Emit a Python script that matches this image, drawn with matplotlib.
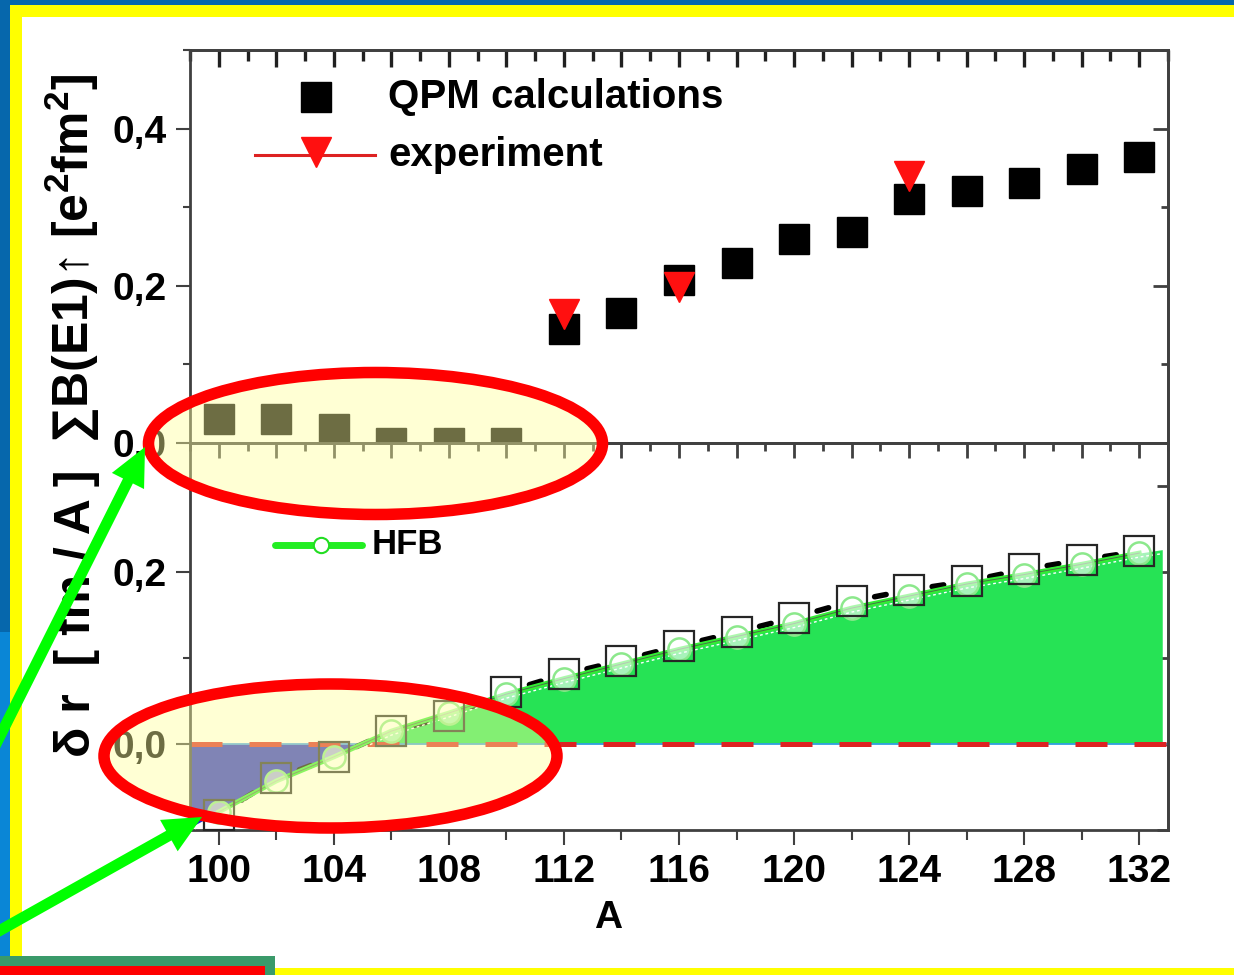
import numpy as np
import matplotlib
matplotlib.use("Agg")
import matplotlib.pyplot as plt
from matplotlib.patches import Rectangle, Ellipse, FancyArrow
from matplotlib.collections import LineCollection
from matplotlib.ticker import FixedLocator, FixedFormatter, MultipleLocator, NullLocator
from matplotlib.transforms import offset_copy

plt.rcParams['font.family'] = ['Liberation Sans', 'DejaVu Sans']
plt.rcParams['font.weight'] = 'bold'
plt.rcParams['mathtext.fontset'] = 'custom'
plt.rcParams['mathtext.rm'] = 'Liberation Sans:bold'
plt.rcParams['mathtext.it'] = 'Liberation Sans:bold'
plt.rcParams['mathtext.bf'] = 'Liberation Sans:bold'

# ---------------- data ----------------
mass_A = [100, 102, 104, 106, 108, 110, 112, 114, 116,
          118, 120, 122, 124, 126, 128, 130, 132]

# summed E1 strength, QPM
be1_qpm = [0.030, 0.031, 0.018, 0.0, 0.0, 0.0, 0.145, 0.165, 0.208,
           0.229, 0.260, 0.268, 0.311, 0.320, 0.331, 0.349, 0.364]

# summed E1 strength, experiment
exp_A = [112, 116, 124]
be1_exp = [0.164, 0.198, 0.340]

# neutron skin per nucleon, QPM (open squares) and HFB (circles)
dr_qpm = [-0.082, -0.040, -0.015, 0.015, 0.032, 0.061, 0.081, 0.097, 0.114,
          0.130, 0.147, 0.166, 0.179, 0.189, 0.203, 0.214, 0.224]
dr_hfb = [-0.079, -0.043, -0.015, 0.015, 0.036, 0.058, 0.076, 0.093, 0.110,
          0.125, 0.140, 0.158, 0.172, 0.186, 0.197, 0.209, 0.222]

# shaded band edge (HFB curve carried to the frame edges)
band_A = [99.0] + mass_A + [132.8]
band_dr = [-0.097] + dr_hfb + [0.226]

x_ticks = [100, 104, 108, 112, 116, 120, 124, 128, 132]
x_labels = ['100', '104', '108', '112', '116', '120', '124', '128', '132']
top_y_ticks = [0.0, 0.2, 0.4]
top_y_labels = ['0,0', '0,2', '0,4']
bot_y_ticks = [0.0, 0.2]
bot_y_labels = ['0,0', '0,2']

W, H = 1234, 975
fig = plt.figure(figsize=(W / 100, H / 100), dpi=100)


def frac(x0, y0, x1, y1):
    return [x0 / W, 1 - y1 / H, (x1 - x0) / W, (y1 - y0) / H]


def pixel_axes(z):
    a = fig.add_axes([0, 0, 1, 1], zorder=z)
    a.set_xlim(0, W)
    a.set_ylim(H, 0)
    a.axis('off')
    a.patch.set_alpha(0)
    return a


# ---------------- page frame ----------------
bg = pixel_axes(-10)
bg.add_patch(Rectangle((0, 0), W, 5, color='#0667ac', lw=0))
bg.add_patch(Rectangle((10, 5), W - 10, 12, color='#ffff00', lw=0))
bg.add_patch(Rectangle((0, 0), 10, 632, color='#0667ac', lw=0))
bg.add_patch(Rectangle((0, 632), 10, 343, color='#0a86d6', lw=0))
bg.add_patch(Rectangle((10, 5), 12, 951, color='#ffff00', lw=0))
bg.add_patch(Rectangle((275, 968), W - 275, 7, color='#ffff00', lw=0))

SPINE = '#404040'
TICK_FS = 28


def style_axes(ax):
    for s in ax.spines.values():
        s.set_linewidth(2.0)
        s.set_color(SPINE)


def inner_ticks(sec, side, major, minor, major_len, minor_len,
                color=SPINE, width=2.0):
    """Unlabelled inward ticks on a mirrored (secondary) axis."""
    axis = sec.xaxis if side in ('top', 'bottom') else sec.yaxis
    axis.set_major_locator(MultipleLocator(major))
    axis.set_minor_locator(MultipleLocator(minor))
    axis.set_tick_params(which='both', direction='in', color=color, width=width)
    axis.set_tick_params(which='major', length=major_len)
    axis.set_tick_params(which='minor', length=minor_len)
    axis.set_major_formatter(FixedFormatter([]))
    sec.spines[side].set_linewidth(2.0)
    sec.spines[side].set_color(SPINE)


# ---------------- upper panel ----------------
ax_t = fig.add_axes(frac(190, 50, 1168, 443))
style_axes(ax_t)
ax_t.set_xlim(99, 133)
ax_t.set_ylim(0, 0.5)

ax_t.plot(mass_A, be1_qpm, 's', ms=21, color='black', ls='none', zorder=3)
ax_t.plot(exp_A, be1_exp, 'v', ms=22, color='#ff1010', ls='none', zorder=4)

ax_t.xaxis.set_major_locator(NullLocator())
ax_t.xaxis.set_minor_locator(NullLocator())
inner_ticks(ax_t.secondary_xaxis('top'), 'top', 2, 1, 12, 8,
            color='#202020', width=2.4)

ax_t.yaxis.set_major_locator(FixedLocator(top_y_ticks))
ax_t.yaxis.set_major_formatter(FixedFormatter(top_y_labels))
ax_t.yaxis.set_minor_locator(MultipleLocator(0.1))
ax_t.tick_params(axis='y', which='both', direction='out', left=True, right=False,
                 color=SPINE, width=1.5, labelsize=TICK_FS, pad=7)
ax_t.tick_params(axis='y', which='major', length=10)
ax_t.tick_params(axis='y', which='minor', length=5)
inner_ticks(ax_t.secondary_yaxis('right'), 'right', 0.2, 0.1, 11, 5)

# ---------------- lower panel ----------------
ax_b = fig.add_axes(frac(190, 443, 1168, 830))
style_axes(ax_b)
ax_b.set_xlim(99, 133)
ax_b.set_ylim(-0.1, 0.35)

bA = np.array(band_A)
bD = np.array(band_dr)
ax_b.fill_between(bA, bD, 0, where=bD >= 0, interpolate=True,
                  color='#26e355', lw=0, zorder=1)
ax_b.fill_between(bA, bD, 0, where=bD <= 0, interpolate=True,
                  color='#2028c8', lw=0, zorder=1)

ax_b.axhline(0, color='#3399ee', lw=1.2, zorder=2)
ax_b.axhline(0, color='#dd2222', lw=3.6, ls=(0, (6.4, 5.4)), zorder=2.5)

# QPM curve drawn as short dashes between neighbouring points
segs = []
for i in range(len(mass_A) - 1):
    x0, x1 = mass_A[i], mass_A[i + 1]
    y0, y1 = dr_qpm[i], dr_qpm[i + 1]
    segs.append([(x0 + 0.40 * (x1 - x0), y0 + 0.40 * (y1 - y0)),
                 (x0 + 0.60 * (x1 - x0), y0 + 0.60 * (y1 - y0))])
ax_b.add_collection(LineCollection(segs, colors='black', linewidths=4.0,
                                   capstyle='round', zorder=3))

ax_b.plot(band_A, band_dr, color='white', lw=1.0, ls=(0, (2, 2)), zorder=3.5,
          transform=offset_copy(ax_b.transData, fig=fig, x=0, y=-4, units='dots'))
ax_b.plot(mass_A, dr_hfb, color='#33ee33', lw=3.5, zorder=4)
ax_b.plot(mass_A, dr_hfb, color='#505050', lw=0.7, alpha=0.8, zorder=4.5)
ax_b.plot(mass_A, dr_hfb, 'o', ms=16, mfc=(1, 1, 1, 0.6), mec='#8ce88c',
          mew=1.8, ls='none', zorder=5)
ax_b.plot(mass_A, dr_qpm, 's', ms=21, mfc='none', mec='#262626', mew=1.6,
          ls='none', zorder=6)

ax_b.xaxis.set_major_locator(FixedLocator(x_ticks))
ax_b.xaxis.set_major_formatter(FixedFormatter(x_labels))
ax_b.xaxis.set_minor_locator(MultipleLocator(2))
ax_b.tick_params(axis='x', which='both', direction='out', top=False, bottom=True,
                 color=SPINE, width=1.5, labelsize=TICK_FS, pad=6)
ax_b.tick_params(axis='x', which='major', length=11)
ax_b.tick_params(axis='x', which='minor', length=7)
inner_ticks(ax_b.secondary_xaxis('top'), 'top', 2, 1, 11, 6)

ax_b.yaxis.set_major_locator(FixedLocator(bot_y_ticks))
ax_b.yaxis.set_major_formatter(FixedFormatter(bot_y_labels))
ax_b.yaxis.set_minor_locator(MultipleLocator(0.1))
ax_b.tick_params(axis='y', which='both', direction='out', left=True, right=False,
                 color=SPINE, width=1.5, labelsize=TICK_FS, pad=7)
ax_b.tick_params(axis='y', which='major', length=10)
ax_b.tick_params(axis='y', which='minor', length=5)
inner_ticks(ax_b.secondary_yaxis('right'), 'right', 0.2, 0.1, 11, 8)

ax_b.set_xlabel('A', fontsize=28, fontweight='bold')
ax_b.xaxis.set_label_coords((608 - 190) / 978, (830 - 918) / 387)
ax_b.xaxis.label.set_va('center')

# ---------------- overlay: labels, legends, highlights ----------------
ov = pixel_axes(10)

ov.text(77, 613, 'δ r  [ fm / A ]', rotation=90, ha='center', va='center',
        fontsize=36, fontweight='bold')
ov.text(72, 258, '∑B(E1)↑ [e$^{2}$fm$^{2}$]', rotation=90, ha='center', va='center',
        fontsize=36, fontweight='bold')

# legend of the upper panel
ov.plot([316], [97], 's', ms=21, color='black')
ov.text(388, 97, 'QPM calculations', ha='left', va='center', fontsize=29,
        fontweight='bold')
ov.plot([255, 375], [155, 155], color='#dd2222', lw=2.2)
ov.plot([316], [152], 'v', ms=22, color='#ff1010')
ov.text(388, 155, 'experiment', ha='left', va='center', fontsize=29,
        fontweight='bold')

# legend of the lower panel
ov.plot([275, 362], [545, 545], color='#22ee22', lw=5, solid_capstyle='round')
ov.plot([321], [545], 'o', ms=11, mfc='white', mec='#22dd22', mew=1.5)
ov.text(372, 545, 'HFB', ha='left', va='center', fontsize=25, fontweight='bold')

# highlighted regions
for (cx, cy, w, h) in [(375.5, 443.5, 454, 142), (330.5, 756, 453, 144)]:
    ov.add_patch(Ellipse((cx, cy), w, h, facecolor=(1.0, 1.0, 0.61, 0.43),
                         edgecolor='#ff0000', lw=8.3, zorder=2))

for (x0, y0, x1, y1) in [(-10, 756, 145, 447), (-10, 936, 202, 817)]:
    ov.add_patch(FancyArrow(x0, y0, x1 - x0, y1 - y0, width=11, head_width=36,
                            head_length=38, length_includes_head=True,
                            color='#00ff00', lw=0, zorder=3))

ov.add_patch(Rectangle((0, 956), 275, 19, color='#3a9a6a', lw=0, zorder=3))
ov.add_patch(Rectangle((0, 966), 265, 9, color='#ff0000', lw=0, zorder=4))

fig.savefig('out.png', dpi=100)
